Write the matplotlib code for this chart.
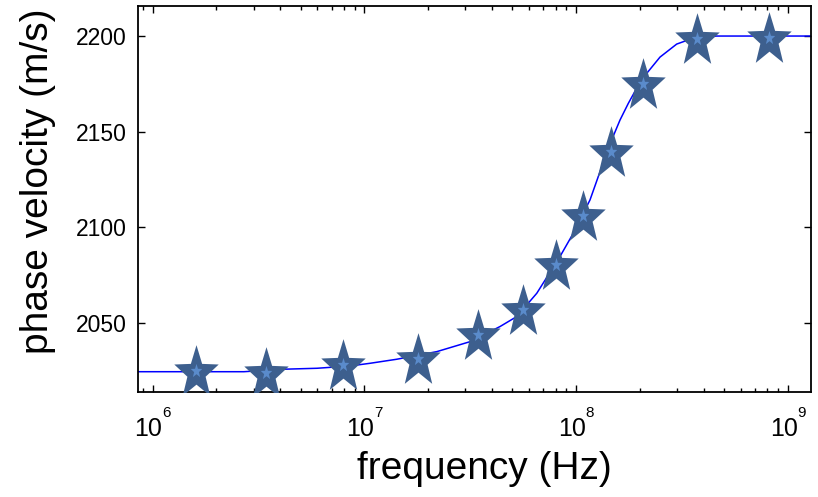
import numpy as np
import matplotlib
matplotlib.use('Agg')
import matplotlib.pyplot as plt

plt.rcParams['font.family'] = ['Liberation Sans', 'DejaVu Sans']

# measured points (Hz, m/s)
freq_meas = [1.60e6, 3.44e6, 7.96e6, 1.79e7, 3.43e7, 5.60e7,
             8.01e7, 1.08e8, 1.46e8, 2.06e8, 3.71e8, 8.12e8]
vel_meas = [2025.4, 2024.5, 2028.4, 2031.5, 2044.1, 2057.3,
            2080.7, 2106.5, 2140.1, 2175.3, 2198.8, 2199.6]

# model curve
freq_model = [8.54e5, 2.70e6, 4.16e6, 5.98e6, 8.56e6, 1.064e7, 1.42e7,
              2.20e7, 3.155e7, 4.37e7, 5.24e7, 6.52e7, 8.39e7, 9.70e7,
              1.163e8, 1.297e8, 1.472e8, 1.612e8, 1.764e8, 1.95e8, 2.155e8,
              2.49e8, 2.985e8, 3.45e8, 4.61e8, 1.285e9]
vel_model = [2024.5, 2024.5, 2025.8, 2026.3, 2027.5, 2028.9, 2031.0,
             2035.0, 2040.2, 2048.1, 2053.3, 2065.5, 2084.7, 2096.9,
             2114.3, 2129.1, 2145.7, 2156.1, 2164.8, 2173.5, 2180.5,
             2189.0, 2195.8, 2198.3, 2200.0, 2200.0]

x_ticks = [1e6, 1e7, 1e8, 1e9]
x_exps = ['6', '7', '8', '9']
y_ticks = [2050, 2100, 2150, 2200]


def star_marker(stretch=1.2, inner=0.41):
    """Five-point star, a bit taller than wide."""
    ang = np.pi / 2 + np.arange(10) * np.pi / 5
    rad = np.where(np.arange(10) % 2 == 0, 1.0, inner)
    x = rad * np.cos(ang)
    y = rad * np.sin(ang)
    y = (y - (y.max() + y.min()) / 2) * stretch
    verts = np.column_stack([x, y])
    return np.vstack([verts, verts[:1]])


def main():
    fig, ax = plt.subplots(figsize=(8.18, 4.97), dpi=100)
    fig.subplots_adjust(left=0.1687, right=0.9914, top=0.9879, bottom=0.2113)

    ax.plot(freq_model, vel_model, color='#0000ff', lw=1.1, zorder=2)

    star = star_marker()
    ax.plot(freq_meas, vel_meas, ls='none', marker=star, ms=36.5,
            mfc='#3d5f8e', mec='none', zorder=3)
    ax.plot(freq_meas, vel_meas, ls='none', marker=star, ms=9.5,
            mfc='#5a8bcb', mec='none', zorder=4)

    ax.set_xscale('log')
    ax.set_xlim(8.54e5, 1.285e9)
    ax.set_ylim(2013.9, 2215.7)
    ax.set_yticks(y_ticks)
    ax.set_xticks(x_ticks)
    ax.set_xticklabels([])

    # decade labels: "10" plus a raised exponent
    xt = ax.get_xaxis_transform()
    for t, e in zip(x_ticks, x_exps):
        ax.annotate('10', xy=(t, 0), xycoords=xt, xytext=(-3, -18),
                    textcoords='offset points', ha='center', va='top',
                    fontsize=18)
        ax.annotate(e, xy=(t, 0), xycoords=xt, xytext=(7, -10),
                    textcoords='offset points', ha='left', va='top',
                    fontsize=11)

    ax.tick_params(which='both', direction='in', top=True, right=True,
                   labelsize=16.5, width=1.0, color='black')
    ax.tick_params(which='major', length=5)
    ax.tick_params(which='minor', length=3)
    ax.tick_params(axis='y', which='major', pad=8)
    for sp in ax.spines.values():
        sp.set_linewidth(1.3)

    ax.set_xlabel('frequency (Hz)', fontsize=28)
    ax.set_ylabel('phase velocity (m/s)', fontsize=28)
    ax.xaxis.set_label_coords(0.515, -0.20, transform=ax.transAxes)
    ax.yaxis.set_label_coords(-0.148, 0.545, transform=ax.transAxes)
    ax.xaxis.label.set_va('center')
    ax.yaxis.label.set_va('center')

    fig.savefig('out.png', dpi=100)


if __name__ == '__main__':
    main()
